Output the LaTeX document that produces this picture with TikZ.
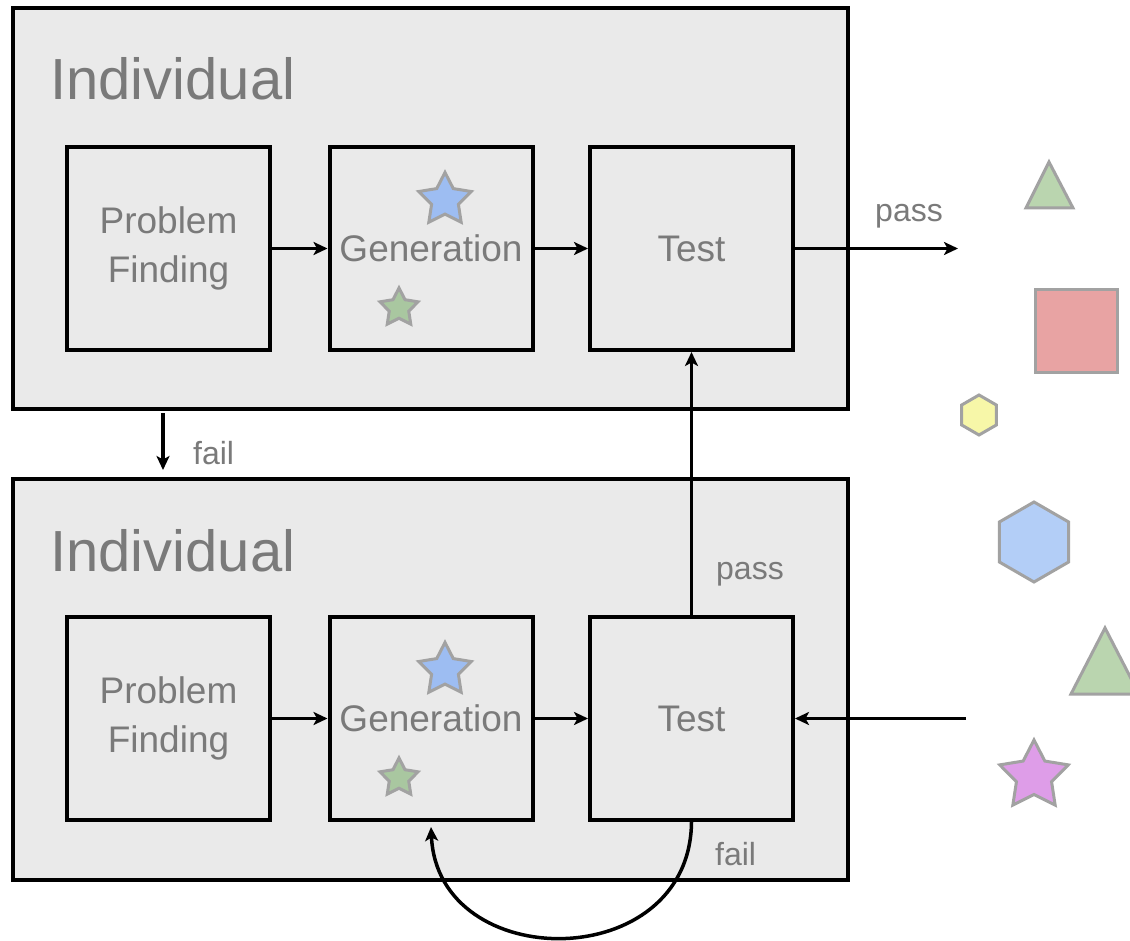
\documentclass[tikz,border=0pt]{standalone}
\usepackage{fontspec}
\setmainfont{Liberation Sans}
\usetikzlibrary{shapes.geometric,arrows.meta}
\definecolor{boxfill}{HTML}{EAEAEA}
\definecolor{txt}{HTML}{7A7A7A}
\definecolor{shapeline}{HTML}{A2A2A2}
\definecolor{grn}{HTML}{BAD5AF}
\definecolor{redsq}{HTML}{E8A3A3}
\definecolor{yel}{HTML}{F7F7A8}
\definecolor{blu}{HTML}{B3CEF7}
\definecolor{pnk}{HTML}{DE9DE8}
\definecolor{bstar}{HTML}{9DBDF2}
\definecolor{gstar}{HTML}{A9C7A0}
\begin{document}
\begin{tikzpicture}[x=1pt,y=-1pt,
  outerbox/.style={draw=black,line width=4pt,fill=boxfill,minimum width=835pt,minimum height=401pt,inner sep=0pt},
  stage/.style={draw=black,line width=4pt,minimum width=203pt,minimum height=203pt,inner sep=0pt,text=txt,font=\fontsize{37}{49}\selectfont,align=center},
  title/.style={anchor=base west,inner sep=0pt,text=txt,font=\fontsize{58}{60}\selectfont},
  lbl/.style={anchor=base west,inner sep=0pt,text=txt,font=\fontsize{32}{36}\selectfont},
  arr/.style={line width=3.5pt,-{Stealth[length=14pt,width=13pt,inset=3.5pt]}},
  shp/.style={draw=shapeline,line width=3pt,line join=miter},
  starshape/.style={shp,star,star points=5,star point ratio=1.95,inner sep=0pt},
  hexshape/.style={shp,regular polygon,regular polygon sides=6,shape border rotate=30,inner sep=0pt}
]
\clip (0,0) rectangle (1130,941);
\fill[white] (0,0) rectangle (1130,941);

% outer boxes
\node[outerbox] (ind1) at (430.5,208.5) {};
\node[outerbox] (ind2) at (430.5,679.5) {};
\node[title] (t1) at (50,100) {Individual};
\node[title] (t2) at (50,571) {Individual};

% stages, top
\node[stage] (pf1) at (168.5,248.5) {Problem\\Finding};
\node[stage] (gen1) at (431,248.5) {Generation};
\node[stage] (test1) at (691.5,248.5) {Test};
% stages, bottom
\node[stage] (pf2) at (168.5,718.5) {Problem\\Finding};
\node[stage] (gen2) at (431,718.5) {Generation};
\node[stage] (test2) at (691.5,718.5) {Test};

% stars in generation boxes
\node[starshape,fill=bstar,minimum size=55pt] (bs1) at (445,200) {};
\node[starshape,fill=gstar,minimum size=40pt] (gs1) at (399,308) {};
\node[starshape,fill=bstar,minimum size=55pt] (bs2) at (445,670) {};
\node[starshape,fill=gstar,minimum size=40pt] (gs2) at (399,778) {};

% shapes on the right
\draw[shp,fill=grn] (1049,162) -- (1073,208) -- (1026,208) -- cycle;
\node[shp,fill=redsq,minimum size=82pt,inner sep=0pt] (sq) at (1076,331) {};
\node[hexshape,fill=yel,minimum size=40pt] (hx1) at (979,415) {};
\node[hexshape,fill=blu,minimum size=80pt] (hx2) at (1034,542) {};
\draw[shp,fill=grn] (1105,628) -- (1139,694) -- (1071,694) -- cycle;
\node[starshape,fill=pnk,minimum size=72pt] (ps) at (1034,776) {};

% connectors
\coordinate (out) at (958,248.5);
\coordinate (in) at (966,718.5);
\coordinate (fs) at (163,413);
\coordinate (fe) at (163,470);

\draw[arr] (pf1) -- (gen1);
\draw[arr] (gen1) -- (test1);
\draw[arr] (test1) -- (out);
\draw[arr] (pf2) -- (gen2);
\draw[arr] (gen2) -- (test2);
\draw[arr] (in) -- (test2);
\draw[arr] (test2.north) -- (test1.south);
\draw[arr] (fs) -- (fe);
\draw[arr] (test2.south) .. controls (690,975) and (438,975) .. ([yshift=-5pt]gen2.south);

% labels
\node[lbl] (p1) at (875,222) {pass};
\node[lbl] (p2) at (716,579) {pass};
\node[lbl] (f1) at (193,464) {fail};
\node[lbl] (f2) at (715,865) {fail};
\end{tikzpicture}
\end{document}
